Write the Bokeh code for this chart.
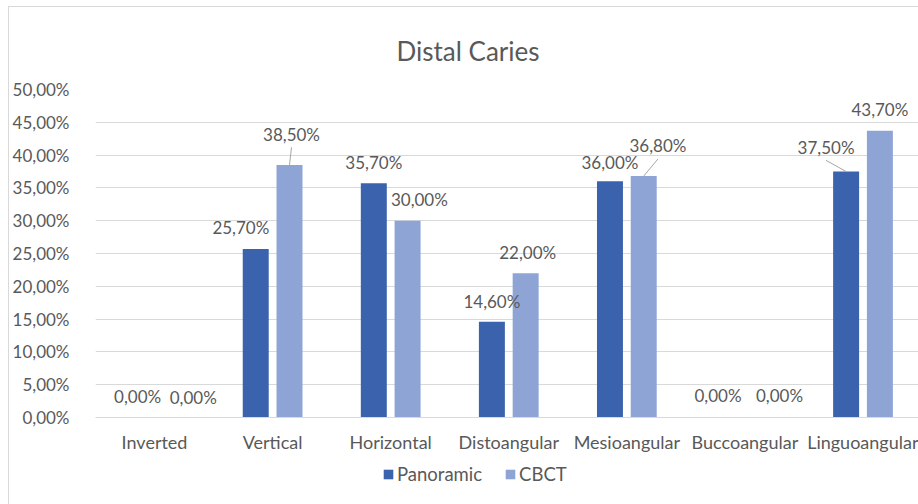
import numpy as np
from bokeh.plotting import figure
from bokeh.layouts import column
from bokeh.models import Range1d, FixedTicker, ColumnDataSource, Legend, LegendItem
from bokeh.core.properties import value
from bokeh.embed import file_html
from bokeh.resources import INLINE

# ---- data ----
categories = ["Inverted", "Vertical", "Horizontal", "Distoangular",
              "Mesioangular", "Buccoangular", "Linguoangular"]
series_names = ["Panoramic", "CBCT"]
panoramic = [0.0, 0.257, 0.357, 0.146, 0.360, 0.0, 0.375]
cbct = [0.0, 0.385, 0.300, 0.220, 0.368, 0.0, 0.437]
y_ticks = [0.0, 0.05, 0.10, 0.15, 0.20, 0.25, 0.30, 0.35, 0.40, 0.45, 0.50]

# ---- label placement (style, in axis units) ----
pan_label_dx = [0.0, -0.126, 0.0, 0.0, 0.0, -0.085, -0.17]
pan_label_dy = [0.032, 0.032, 0.032, 0.031, 0.028, 0.034, 0.037]
pan_leader = [False, False, False, False, False, False, True]
cbct_label_dx = [0.185, 0.017, 0.10, 0.017, 0.12, 0.15, 0.0]
cbct_label_dy = [0.031, 0.047, 0.033, 0.032, 0.046, 0.034, 0.033]
cbct_leader = [False, True, False, False, True, False, False]

FONT = "Lato"
TXT = "#595959"
C_PAN = "#3B62AD"
C_CBCT = "#8EA4D5"
OFF = 0.143
BW = 0.22


def pct(v):
    return ("%.2f%%" % (v * 100)).replace(".", ",")


x = np.arange(len(categories), dtype=float)

p = figure(width=909, height=448,
           x_range=Range1d(-0.5, 6.47), y_range=Range1d(0, 0.5),
           output_backend="svg", toolbar_location=None,
           min_border_left=82, min_border_right=0,
           min_border_top=82, min_border_bottom=36)
p.outline_line_color = None
p.background_fill_color = "white"
p.border_fill_color = "white"

# title
p.title.text = "Distal Caries"
p.title.text_font = FONT
p.title.text_font_size = "26px"
p.title.text_font_style = "normal"
p.title.text_color = TXT
p.title.align = "left"
p.title.offset = 301
p.title.standoff = 46

src_p = ColumnDataSource(dict(x=x - OFF, top=panoramic,
                              lx=x - OFF + np.array(pan_label_dx),
                              ly=np.array(panoramic) + np.array(pan_label_dy),
                              txt=[pct(v) for v in panoramic]))
src_c = ColumnDataSource(dict(x=x + OFF, top=cbct,
                              lx=x + OFF + np.array(cbct_label_dx),
                              ly=np.array(cbct) + np.array(cbct_label_dy),
                              txt=[pct(v) for v in cbct]))

r1 = p.vbar(x="x", top="top", width=BW, source=src_p, fill_color=C_PAN, line_color=None)
r2 = p.vbar(x="x", top="top", width=BW, source=src_c, fill_color=C_CBCT, line_color=None)

# leader lines for moved labels
lead_x0, lead_y0, lead_x1, lead_y1 = [], [], [], []
for src_x, vals, dxs, dys, flags in [(x - OFF, panoramic, pan_label_dx, pan_label_dy, pan_leader),
                                      (x + OFF, cbct, cbct_label_dx, cbct_label_dy, cbct_leader)]:
    for i, f in enumerate(flags):
        if f:
            lead_x0.append(src_x[i])
            lead_y0.append(vals[i])
            lead_x1.append(src_x[i] + dxs[i])
            lead_y1.append(vals[i] + dys[i] - 0.020)
p.segment(x0=lead_x0, y0=lead_y0, x1=lead_x1, y1=lead_y1, line_color="#a6a6a6", line_width=1)

for src in (src_p, src_c):
    p.text(x="lx", y="ly", text="txt", source=src, text_font=value(FONT),
           text_font_size="17px", text_color=TXT, text_align="center",
           text_baseline="middle")

# axes
p.yaxis.ticker = FixedTicker(ticks=y_ticks)
p.yaxis.major_label_overrides = {t: pct(t) for t in y_ticks}
p.yaxis.axis_line_color = None
p.yaxis.major_tick_line_color = None
p.yaxis.minor_tick_line_color = None
p.yaxis.major_label_standoff = 20
p.yaxis.major_label_text_font = FONT
p.yaxis.major_label_text_font_size = "17px"
p.yaxis.major_label_text_color = TXT

p.xaxis.ticker = FixedTicker(ticks=list(range(len(categories))))
p.xaxis.major_label_overrides = {i: c for i, c in enumerate(categories)}
p.xaxis.axis_line_color = "#d9d9d9"
p.xaxis.major_tick_line_color = None
p.xaxis.minor_tick_line_color = None
p.xaxis.major_label_standoff = 7
p.xaxis.major_label_text_font = FONT
p.xaxis.major_label_text_font_size = "18px"
p.xaxis.major_label_text_color = TXT

p.xgrid.grid_line_color = None
p.ygrid.grid_line_color = "#d9d9d9"
p.ygrid.ticker = FixedTicker(ticks=y_ticks)

# ---- legend strip below the chart (same series, drawn out of view) ----
lg = figure(width=909, height=49, x_range=Range1d(-0.5, 6.47), y_range=Range1d(1, 2),
            output_backend="svg", toolbar_location=None,
            min_border_left=0, min_border_right=0, min_border_top=0, min_border_bottom=0)
lg.axis.visible = False
lg.grid.grid_line_color = None
lg.outline_line_color = None
lg.border_fill_color = "white"
g1 = lg.vbar(x=x - OFF, top=panoramic, width=BW, fill_color=C_PAN, line_color=None)
g2 = lg.vbar(x=x + OFF, top=cbct, width=BW, fill_color=C_CBCT, line_color=None)
legend = Legend(items=[LegendItem(label=series_names[0], renderers=[g1]),
                       LegendItem(label=series_names[1], renderers=[g2])],
                orientation="horizontal", location=(287, 19))
legend.background_fill_alpha = 0
legend.border_line_color = None
legend.label_text_font = FONT
legend.label_text_font_size = "18.5px"
legend.label_text_color = TXT
legend.glyph_width = 12
legend.glyph_height = 12
legend.label_standoff = 3
legend.spacing = 22
legend.padding = 0
legend.margin = 0
lg.add_layout(legend, "center")

layout = column(p, lg, spacing=0,
                styles={"margin-left": "8px", "margin-top": "6px",
                        "border-left": "1px solid #d9d9d9",
                        "border-top": "1px solid #d9d9d9"})

open("out.html", "w").write(file_html(layout, INLINE))
